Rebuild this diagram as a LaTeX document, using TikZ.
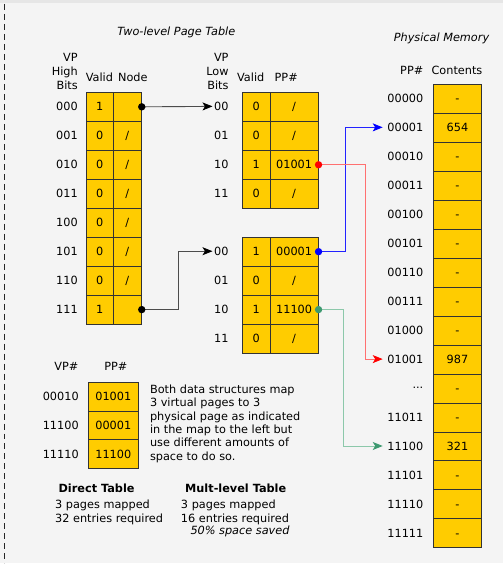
\documentclass[tikz,border=0pt]{standalone}
\usepackage{fontspec}
\setmainfont{DejaVu Sans}
\usetikzlibrary{arrows.meta,positioning,calc}

\definecolor{bgcol}{HTML}{F4F4F4}
\definecolor{bandcol}{HTML}{E6E6E6}
\definecolor{cellcol}{HTML}{FFCC00}
\definecolor{cellline}{HTML}{333333}
\definecolor{redtip}{HTML}{FF0000}
\definecolor{redline}{HTML}{FF7070}
\definecolor{bluetip}{HTML}{0000FF}
\definecolor{blueline}{HTML}{2222FF}
\definecolor{greentip}{HTML}{3D9970}
\definecolor{greenline}{HTML}{8CC8AA}

\newcommand{\slashmark}{/}
\newcommand{\gapmark}{...}

\tikzset{
  cell/.style={draw=cellline, fill=cellcol, line width=0.9pt, minimum height=29pt,
    inner sep=0pt, text height=8.3pt, text depth=0pt, anchor=north west},
  rowlbl/.style={anchor=east, inner sep=1.5pt},
  hdr/.style={align=right, anchor=east, inner sep=1.5pt, font=\fontsize{11.3}{14}\selectfont},
  ttl/.style={font=\fontsize{11.3}{13.5}\selectfont\itshape},
  ptr/.style={draw=black!70, line width=0.9pt, -{Stealth[length=10pt, width=8pt, inset=2.5pt, black]}},
}

\begin{document}
\begin{tikzpicture}[x=1pt, y=-1pt, font=\fontsize{11.3}{13.4}\selectfont]
  % canvas
  \fill[bgcol] (0,0) rectangle (504,564);
  \fill[bandcol] (0,0) rectangle (504,3.5);
  \draw[black!85, line width=1.3pt, dash pattern=on 6pt off 4pt] (4.5,4) -- (4.5,564);

  % titles
  \node[ttl] (twolvl) at (176.5,32) {Two-level Page Table};
  \node[ttl] (physttl) at (442,38) {Physical Memory};

  % first level: high bits
  \node[hdr] (hihdr) at (79.5,72) {VP\\High\\Bits};
  \node (hivalid) at (99.5,77) {Valid};
  \node (hinode) at (133,77) {Node};
  \foreach \lbl/\v/\p [count=\i from 0] in {000/1/\relax, 001/0/\slashmark, 010/0/\slashmark,
      011/0/\slashmark, 100/0/\slashmark, 101/0/\slashmark, 110/0/\slashmark, 111/1/\relax} {
    \node[cell, minimum width=27pt] (hv\i) at (86,{92+29*\i}) {\v};
    \node[cell, minimum width=28pt] (hn\i) at (113,{92+29*\i}) {\p};
    \node[rowlbl] (hl\i) at (79.5,{106.5+29*\i}) {\lbl};
  }

  % second level: low bits (two tables)
  \node[hdr] (lohdr) at (230.5,72) {VP\\Low\\Bits};
  \node (lovalid) at (251,77) {Valid};
  \node (lopp) at (286.5,77) {PP\#};
  \foreach \lbl/\v/\p [count=\i from 0] in {00/0/\slashmark, 01/0/\slashmark, 10/1/01001, 11/0/\slashmark} {
    \node[cell, minimum width=28pt] (av\i) at (242,{92+29*\i}) {\v};
    \node[cell, minimum width=48pt] (ap\i) at (270,{92+29*\i}) {\p};
    \node[rowlbl] (la\i) at (230.5,{106.5+29*\i}) {\lbl};
  }
  \foreach \lbl/\v/\p [count=\i from 0] in {00/1/00001, 01/0/\slashmark, 10/1/11100, 11/0/\slashmark} {
    \node[cell, minimum width=28pt] (bv\i) at (242,{237+29*\i}) {\v};
    \node[cell, minimum width=48pt] (bp\i) at (270,{237+29*\i}) {\p};
    \node[rowlbl] (lb\i) at (230.5,{251.5+29*\i}) {\lbl};
  }

  % physical memory
  \node[rowlbl] (memhdr) at (425.5,70) {PP\#};
  \node (memcont) at (457.5,70) {Contents};
  \foreach \lbl/\c [count=\i from 0] in {00000/-, 00001/654, 00010/-, 00011/-, 00100/-, 00101/-,
      00110/-, 00111/-, 01000/-, 01001/987, \gapmark/-, 11011/-, 11100/321, 11101/-, 11110/-, 11111/-} {
    \node[cell, minimum width=49pt] (mc\i) at (433,{84+29*\i}) {\c};
    \node[rowlbl] (ml\i) at (425.5,{98.5+29*\i}) {\lbl};
  }

  % pointers from the first level
  \draw[ptr] (hn0.east) -- (la0.west);
  \draw[ptr] (hn7.east) -- ++(37,0) |- (lb0.west);
  \fill[black] (hn0.east) circle (3.7pt);
  \fill[black] (hn7.east) circle (3.7pt);

  % pointers into physical memory
  \draw[blueline, line width=0.9pt, shorten >=3pt,
    -{Stealth[length=10pt, width=8pt, inset=2.5pt, bluetip]}] (bp0.east) -- ++(27,0) |- (ml1.west);
  \draw[redline, line width=0.9pt, shorten >=3pt,
    -{Stealth[length=10pt, width=8pt, inset=2.5pt, redtip]}] (ap2.east) -- ++(47,0) |- (ml9.west);
  \draw[greenline, line width=0.9pt, shorten >=3pt,
    -{Stealth[length=10pt, width=8pt, inset=2.5pt, greentip]}] (bp2.east) -- ++(25,0) |- (ml12.west);
  \fill[bluetip] (bp0.east) circle (3.7pt);
  \fill[redtip] (ap2.east) circle (3.7pt);
  \fill[greentip] (bp2.east) circle (3.7pt);

  % direct table
  \node (dvp) at (66.5,367) {VP\#};
  \node (dpp) at (116,367) {PP\#};
  \foreach \lbl/\p [count=\i from 0] in {00010/01001, 11100/00001, 11110/11100} {
    \node[cell, minimum width=50pt] (dc\i) at (88,{382+29*\i}) {\p};
    \node[rowlbl] (dl\i) at (80.5,{396.5+29*\i}) {\lbl};
  }

  % notes
  \node[anchor=north west, align=left, inner sep=0pt] (note) at (150,385)
    {Both data structures map\\3 virtual pages to 3\\physical page as indicated\\in the map to the left but\\use different amounts of\\space to do so.};
  \node[font=\fontsize{11.3}{13.4}\selectfont\bfseries] (dirttl) at (96.7,489) {Direct Table};
  \node[anchor=north west, align=left, inner sep=0pt] (dirtxt) at (55,500.5)
    {3 pages mapped\\32 entries required};
  \node[font=\fontsize{11.3}{13.4}\selectfont\bfseries] (multttl) at (236,489) {Mult-level Table};
  \node[anchor=north west, align=left, inner sep=0pt] (multtxt) at (181,500.5)
    {3 pages mapped\\16 entries required};
  \node[ttl, anchor=east, inner sep=0pt] (saved) at (290,532) {50\% space saved};
\end{tikzpicture}
\end{document}
